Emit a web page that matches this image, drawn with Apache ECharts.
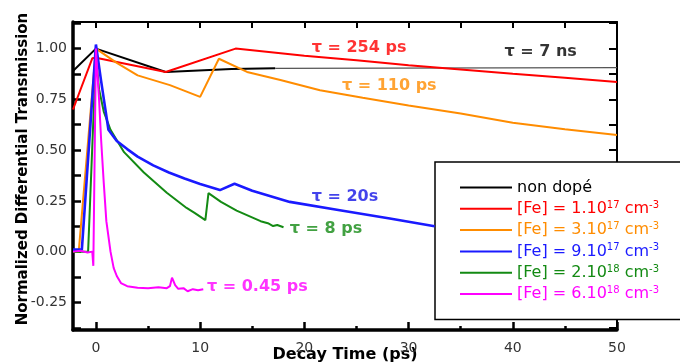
<!DOCTYPE html>
<html>
<head>
<meta charset="utf-8">
<script src="https://cdn.jsdelivr.net/npm/echarts@6/dist/echarts.min.js"></script>
<style>html,body{margin:0;padding:0;background:#fff}#c{width:680px;height:363px}</style>
</head>
<body>
<div id="c"></div>
<script>
// ---- data (x in ps, y normalized) ----
const xTickLabels = [0, 10, 20, 30, 40, 50];
const xMinorTicks = [5, 15, 25, 35, 45];
const xTopTicks = [0, 5, 10, 15, 20, 25, 30, 35, 40, 45, 50];
const yTickLabels = [-0.25, 0, 0.25, 0.5, 0.75, 1.0];
const yTicks = [-0.375, -0.25, -0.125, 0, 0.125, 0.25, 0.375, 0.5, 0.625, 0.75, 0.875, 1.0, 1.125];

const nonDope = [[-2.2, 0.89], [0, 1.0], [6.7, 0.885], [13, 0.9], [17.2, 0.903]];
const nonDopeTail = [[17.2, 0.903], [50, 0.906]];
const fe1e17 = [[-2.2, 0.70], [-0.35, 0.952], [0, 0.955], [6.7, 0.885], [13.4, 1.0], [20, 0.965], [25, 0.943], [30, 0.918], [35, 0.897], [40, 0.876], [45, 0.856], [50, 0.836]];
const fe3e17 = [[-2.2, 0.0], [-1.65, 0.0], [0, 1.0], [2, 0.93], [4, 0.868], [7.1, 0.82], [10.0, 0.762], [11.8, 0.95], [14.5, 0.885], [17.7, 0.845], [21.5, 0.795], [25.6, 0.758], [30, 0.72], [35, 0.68], [40, 0.635], [45, 0.603], [50, 0.575]];
const fe9e17 = [[-2.2, 0.01], [-1.35, 0.01], [0, 1.02], [0.5, 0.84], [1.2, 0.6], [2, 0.545], [3, 0.505], [4, 0.468], [5.5, 0.425], [7, 0.39], [8.5, 0.36], [10, 0.333], [11.9, 0.303], [13.3, 0.334], [15, 0.3], [18.6, 0.245], [23.4, 0.204], [28.2, 0.163], [32.5, 0.125]];
const fe2e18 = [[-2.2, 0.0], [-0.75, 0.0], [0, 0.97], [0.3, 0.8], [0.75, 0.69], [1.4, 0.6], [2.7, 0.49], [4.6, 0.39], [6.8, 0.29], [8.7, 0.215], [9.5, 0.19], [10.5, 0.155], [10.8, 0.288], [12, 0.245], [13.5, 0.202], [15.8, 0.15], [16.5, 0.14], [17.0, 0.126], [17.4, 0.131], [18.0, 0.12]];
const fe6e18 = [[-2.2, 0.0], [-1.5, 0.004], [-0.8, -0.004], [-0.35, 0.0], [-0.25, -0.07], [0, 1.0], [0.3, 0.75], [0.5, 0.55], [0.75, 0.34], [1.0, 0.15], [1.4, 0.0], [1.7, -0.08], [2.0, -0.12], [2.4, -0.155], [3.0, -0.17], [4, -0.178], [5, -0.18], [6, -0.175], [6.8, -0.18], [7.1, -0.17], [7.3, -0.128], [7.6, -0.165], [7.9, -0.183], [8.4, -0.18], [8.8, -0.195], [9.3, -0.185], [9.8, -0.19], [10.3, -0.185]];

const annotations = [
  ['τ = 254 ps', 20.7, 1.005, '#ff0000'],
  ['τ = 7 ns', 39.2, 0.983, '#000000'],
  ['τ = 110 ps', 23.6, 0.819, '#ff8c00'],
  ['τ = 20s', 20.7, 0.27, '#1414e6'],
  ['τ = 8 ps', 18.6, 0.114, '#138a13'],
  ['τ = 0.45 ps', 10.65, -0.173, '#ff00ff']
];

const legendItems = [
  ['non dopé', 'non dopé', '#000000'],
  ['fe1', '[Fe] = 1.10{s|17} cm{s|-3}', '#ff0000'],
  ['fe3', '[Fe] = 3.10{s|17} cm{s|-3}', '#ff8c00'],
  ['fe9', '[Fe] = 9.10{s|17} cm{s|-3}', '#1a1aff'],
  ['fe2', '[Fe] = 2.10{s|18} cm{s|-3}', '#138a13'],
  ['fe6', '[Fe] = 6.10{s|18} cm{s|-3}', '#ff00ff']
];

const FONT = 'DejaVu Sans, sans-serif';
const chart = echarts.init(document.getElementById('c'), null, {renderer: 'canvas'});

function line(name, data, color, width, z) {
  return {type: 'line', name: name, data: data, symbol: 'none', showSymbol: false,
    lineStyle: {color: color, width: width}, itemStyle: {color: color}, z: z || 2, silent: true};
}

const labelMap = {};
legendItems.forEach(it => { labelMap[it[0]] = it[1]; });

const option = {
  animation: false,
  backgroundColor: '#ffffff',
  grid: {left: 73, right: 63, top: 22, bottom: 33, containLabel: false, outerBoundsMode: 'none'},
  xAxis: [
    {type: 'value', position: 'bottom', min: -2.2, max: 50,
      axisLine: {show: true, onZero: false, lineStyle: {color: '#000', width: 3.5}},
      axisTick: {show: true, inside: true, length: 8, customValues: xTickLabels, lineStyle: {color: '#000', width: 2.5}},
      axisLabel: {show: true, customValues: xTickLabels, margin: 11, fontSize: 14, color: '#333', fontFamily: FONT},
      splitLine: {show: false},
      name: 'Decay Time (ps)', nameLocation: 'middle', nameGap: 17, nameMoveOverlap: false,
      nameTextStyle: {fontSize: 16, fontWeight: 'bold', color: '#000', fontFamily: FONT}},
    {type: 'value', position: 'bottom', min: -2.2, max: 50,
      axisLine: {show: false, onZero: false},
      axisTick: {show: true, inside: true, length: 4, customValues: xMinorTicks, lineStyle: {color: '#000', width: 2.5}},
      axisLabel: {show: false}, splitLine: {show: false}},
    {type: 'value', position: 'top', min: -2.2, max: 50,
      axisLine: {show: true, onZero: false, lineStyle: {color: '#000', width: 2}},
      axisTick: {show: true, inside: true, length: 6, customValues: xTopTicks, lineStyle: {color: '#000', width: 2}},
      axisLabel: {show: false}, splitLine: {show: false}}
  ],
  yAxis: [
    {type: 'value', position: 'left', min: -0.386, max: 1.131,
      axisLine: {show: true, onZero: false, lineStyle: {color: '#000', width: 3.5}},
      axisTick: {show: true, inside: true, length: 8, customValues: yTicks, lineStyle: {color: '#000', width: 2.5}},
      axisLabel: {show: true, customValues: yTickLabels, margin: 6, fontSize: 14, color: '#333', fontFamily: FONT,
        formatter: v => v.toFixed(2)},
      splitLine: {show: false},
      name: 'Normalized Differential Transmission', nameLocation: 'middle', nameGap: 42, nameMoveOverlap: false,
      nameTextStyle: {fontSize: 15, fontWeight: 'bold', color: '#000', fontFamily: FONT, padding: [0, 0, 0, 14]}},
    {type: 'value', position: 'right', min: -0.386, max: 1.131,
      axisLine: {show: true, onZero: false, lineStyle: {color: '#000', width: 2}},
      axisTick: {show: true, inside: true, length: 8, customValues: yTicks, lineStyle: {color: '#000', width: 2}},
      axisLabel: {show: false}, splitLine: {show: false}}
  ],
  legend: {
    show: true, orient: 'vertical', left: 435, top: 162,
    padding: [17, 80, 17, 25],
    backgroundColor: '#ffffff', borderColor: '#000', borderWidth: 1.5,
    itemWidth: 52, itemHeight: 2, itemGap: 4.3, selectedMode: false,
    textStyle: {fontSize: 16, fontFamily: FONT, lineHeight: 17,
      rich: {s: {fontSize: 10, lineHeight: 17, verticalAlign: 'top', fontFamily: FONT, padding: [0, 0, 7, 0]}}},
    formatter: name => labelMap[name] || name,
    data: legendItems.map(it => ({name: it[0], icon: 'rect', itemStyle: {color: it[2]}, textStyle: {color: it[2]}}))
  },
  series: [
    line('non dopé', nonDope, '#000000', 2, 3),
    line('ndTail', nonDopeTail, '#555555', 1.3, 3),
    line('fe1', fe1e17, '#ff0000', 2, 4),
    line('fe3', fe3e17, '#ff8c00', 2, 5),
    line('fe2', fe2e18, '#138a13', 2, 6),
    line('fe9', fe9e17, '#1a1aff', 2.6, 7),
    line('fe6', fe6e18, '#ff00ff', 2, 8),
    {type: 'scatter', name: 'annot', symbolSize: 0.1, silent: true, z: 9,
      data: annotations.map(a => ({value: [a[1], a[2]], label: {color: a[3]}})),
      label: {show: true, position: 'right', distance: 0, fontSize: 16, fontWeight: 'bold', fontFamily: FONT,
        formatter: p => annotations[p.dataIndex][0]}}
  ]
};
chart.setOption(option);
</script>
</body>
</html>
